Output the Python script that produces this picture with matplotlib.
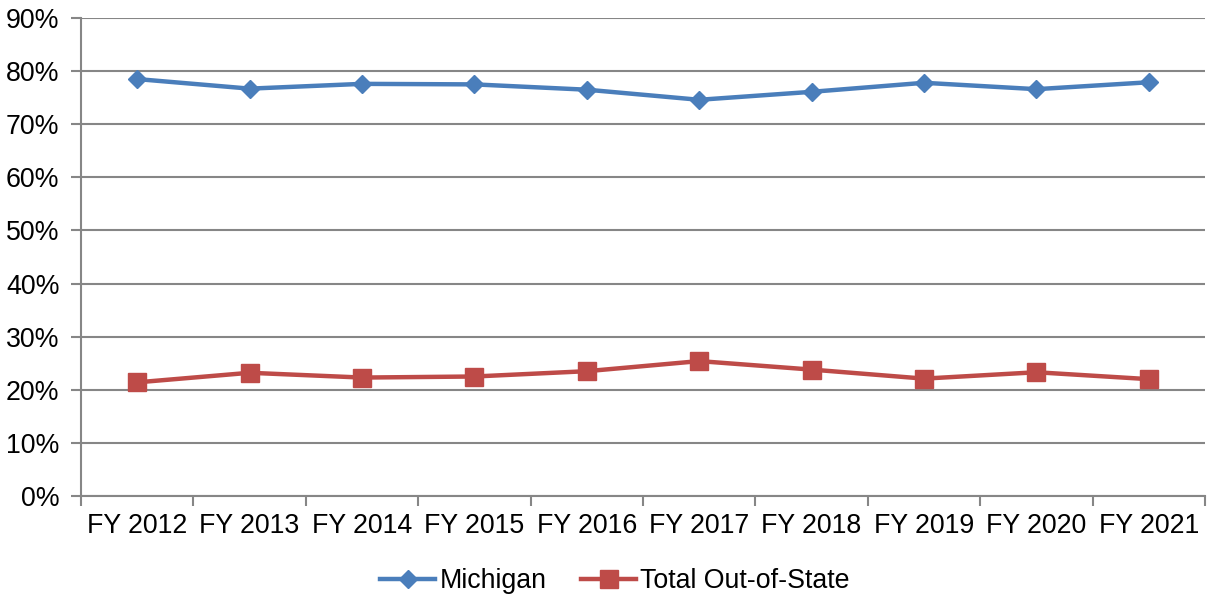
import matplotlib
matplotlib.use("Agg")
import matplotlib.pyplot as plt
from matplotlib.ticker import FixedLocator, FuncFormatter, NullFormatter
import numpy as np

categories = ["FY 2012", "FY 2013", "FY 2014", "FY 2015", "FY 2016",
              "FY 2017", "FY 2018", "FY 2019", "FY 2020", "FY 2021"]
michigan = [78.5, 76.7, 77.6, 77.5, 76.5, 74.6, 76.1, 77.8, 76.6, 77.9]
out_of_state = [21.4, 23.2, 22.3, 22.5, 23.5, 25.4, 23.8, 22.1, 23.3, 22.0]
y_ticks = [0, 10, 20, 30, 40, 50, 60, 70, 80, 90]

plt.rcParams['font.family'] = ['Liberation Sans', 'DejaVu Sans']
FS = 19.3

fig = plt.figure(figsize=(12.07, 6.0), dpi=100)
ax = fig.add_axes([81/1207, 1 - 496/600, (1205 - 81)/1207, (496 - 18)/600])

x = np.arange(len(categories))
blue = "#4A7EBB"
red = "#BE4B48"
ax.plot(x, michigan, color=blue, lw=3.2, marker="D", ms=9.2, mec=blue, mfc=blue,
        label="Michigan", zorder=3, clip_on=False)
ax.plot(x, out_of_state, color=red, lw=3.2, marker="s", ms=12.5, mec=red, mfc=red,
        label="Total Out-of-State", zorder=3, clip_on=False)

ax.set_xlim(-0.5, len(categories) - 0.5)
ax.set_ylim(0, 90)
ax.set_yticks(y_ticks)
ax.yaxis.set_major_formatter(FuncFormatter(lambda v, p: f"{int(v)}%"))
ax.yaxis.grid(True, color="#868686", lw=1.5)
ax.set_axisbelow(True)

ax.xaxis.set_major_locator(FixedLocator(np.arange(-0.5, len(categories), 1.0)))
ax.xaxis.set_major_formatter(NullFormatter())
ax.xaxis.set_minor_locator(FixedLocator(x))
ax.set_xticklabels(categories, minor=True)
ax.tick_params(axis="x", which="major", length=7, width=1.5, color="#868686", direction="out")
ax.tick_params(axis="x", which="minor", length=0, pad=12, labelsize=FS)
ax.tick_params(axis="y", length=7, width=1.5, color="#868686", labelsize=FS, pad=8.5)

for s in ["top", "right"]:
    ax.spines[s].set_visible(False)
for s in ["left", "bottom"]:
    ax.spines[s].set_color("#868686")
    ax.spines[s].set_linewidth(1.5)

leg = fig.legend(loc="center", bbox_to_anchor=(615/1207, 1 - 581/600), ncol=2, frameon=False,
                 fontsize=FS, handlelength=2.05, columnspacing=1.3, handletextpad=0.15)

fig.savefig("out.png", dpi=100)
